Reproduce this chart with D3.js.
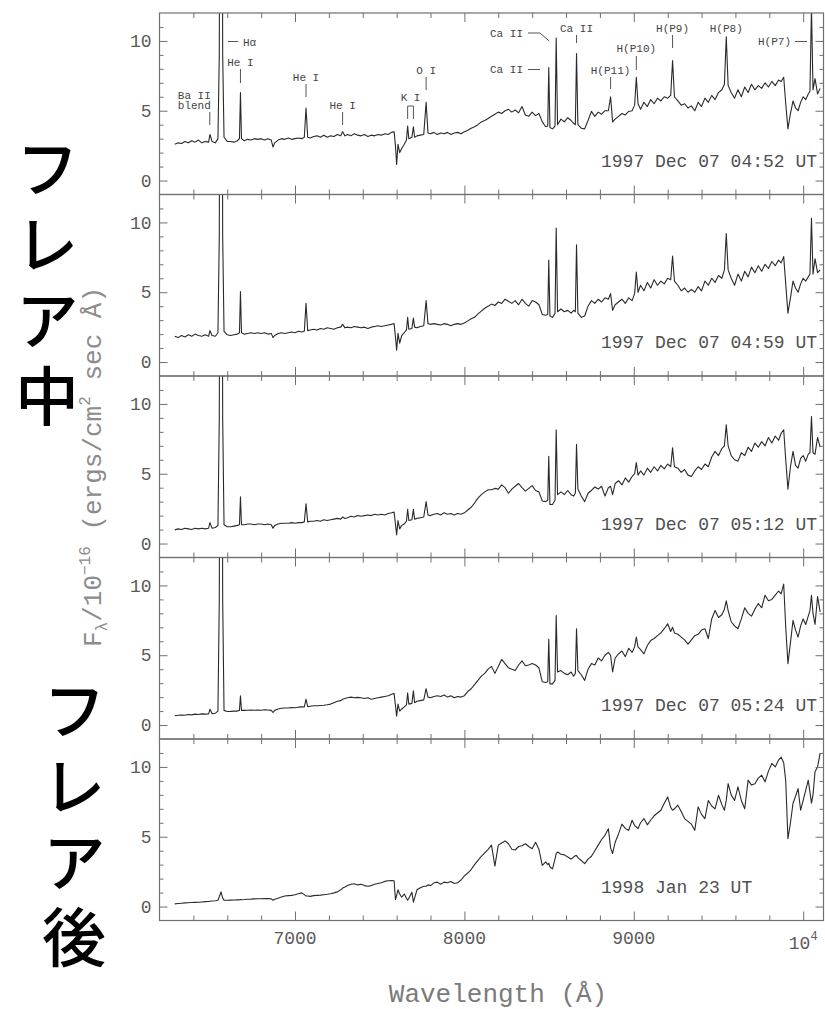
<!DOCTYPE html>
<html>
<head>
<meta charset="utf-8">
<script src="https://cdn.jsdelivr.net/npm/d3@7"></script>
<style>
  body { margin: 0; background: #fff; }
  svg { display: block; }
</style>
</head>
<body>
<svg id="chart" width="825" height="1009"></svg>
<script>
// Wavelength grid (Å) shared by all five spectra
const wavelength = [
  6290,6310,6330,6350,6370,6390,6410,6430,6450,6470,
  6490,6498,6510,6530,6545,6553,6563,6573,6581,6600,
  6620,6640,6660,6672,6678,6684,6700,6720,6740,6760,
  6780,6800,6820,6840,6860,6870,6880,6900,6920,6940,
  6960,6980,7000,7020,7040,7055,7065,7075,7090,7110,
  7130,7150,7170,7190,7210,7230,7250,7270,7281,7295,
  7310,7330,7350,7370,7390,7410,7430,7450,7470,7490,
  7510,7530,7550,7570,7585,7593,7600,7608,7618,7630,
  7645,7658,7665,7672,7690,7699,7706,7720,7740,7760,
  7774,7785,7800,7820,7840,7860,7880,7900,7920,7940,
  7960,7980,8000,8020,8040,8060,8080,8100,8120,8140,
  8160,8180,8200,8220,8240,8260,8280,8300,8320,8340,
  8360,8380,8400,8420,8440,8460,8480,8492,8498,8505,
  8520,8535,8542,8550,8570,8590,8610,8630,8645,8655,
  8662,8670,8690,8710,8730,8750,8770,8790,8810,8830,
  8850,8863,8875,8890,8910,8930,8950,8970,8990,9005,
  9015,9025,9040,9060,9080,9100,9120,9140,9160,9180,
  9200,9218,9229,9240,9260,9280,9300,9320,9340,9360,
  9380,9400,9420,9440,9460,9480,9500,9520,9535,9546,
  9557,9575,9595,9615,9635,9655,9675,9695,9715,9735,
  9755,9775,9795,9815,9835,9855,9870,9885,9897,9910,
  9925,9940,9955,9970,9985,10000,10015,10030,10040,10049,
  10058,10070,10085,10100
];

// F_lambda / 1e-16 erg s^-1 cm^-2 Å^-1
const flux19971207_0452 = [
  2.6,2.7,2.65,2.8,2.7,2.85,2.75,2.9,2.7,2.8,
  2.75,3.3,2.8,2.7,3.0,9,60,9,3.1,2.8,
  2.8,2.75,2.85,3.0,6.3,3.0,2.85,2.95,2.9,3.0,
  2.95,3.0,2.9,3.0,2.9,2.4,2.7,2.9,3.0,2.95,
  3.05,2.95,3.0,3.05,3.0,3.1,5.2,3.1,3.05,3.15,
  3.2,3.1,3.25,3.1,3.2,3.15,3.3,3.2,3.5,3.2,
  3.3,3.2,3.35,3.25,3.2,3.3,3.15,3.25,3.2,3.3,
  3.25,3.35,3.3,3.45,3.5,2.5,1.15,2.6,2.0,2.3,
  2.6,2.9,3.9,3.0,3.1,3.85,3.1,3.2,3.25,3.3,
  5.6,3.4,3.35,3.45,3.3,3.4,3.35,3.45,3.3,3.4,
  3.45,3.35,3.5,3.6,3.75,3.85,4.0,4.2,4.3,4.45,
  4.6,4.75,4.9,4.8,5.0,5.1,4.9,5.05,4.85,5.3,
  4.7,4.6,4.9,4.65,4.8,4.2,3.85,3.9,8.1,3.8,
  3.7,3.9,10.2,4.0,4.4,4.2,4.5,4.3,4.1,4.0,
  9.1,4.0,3.75,3.7,4.3,4.95,4.6,4.9,4.75,5.0,
  5.0,6.0,4.2,4.4,4.6,4.8,4.7,4.95,5.0,5.4,
  7.4,5.5,5.1,5.6,5.3,5.8,5.5,5.9,5.7,6.0,
  5.9,6.1,8.6,6.0,5.7,5.4,5.5,5.2,5.35,5.0,
  5.6,5.3,5.9,5.6,6.1,5.8,6.3,6.5,6.9,10.3,
  6.8,6.3,5.9,6.5,6.0,6.7,6.3,6.9,6.5,6.8,
  6.6,7.0,6.7,7.1,6.8,7.2,7.1,7.4,5.5,3.7,
  4.8,5.7,5.2,5.0,5.6,6.0,5.8,6.2,6.4,12.4,
  6.5,7.3,6.2,6.6
];

const flux19971207_0459 = [
  1.85,1.75,1.9,1.8,1.95,1.85,2.0,1.9,1.85,1.95,
  1.85,2.25,1.9,1.85,2.1,9,60,9,2.2,1.95,
  1.9,1.95,2.0,2.1,5.05,2.1,2.0,2.05,2.1,2.05,
  2.1,2.05,2.1,2.0,2.05,1.75,1.9,2.05,2.1,2.05,
  2.1,2.15,2.1,2.2,2.15,2.2,4.2,2.25,2.3,2.35,
  2.3,2.4,2.35,2.45,2.4,2.35,2.45,2.5,2.7,2.45,
  2.5,2.45,2.55,2.5,2.45,2.5,2.4,2.5,2.55,2.6,
  2.55,2.6,2.65,2.7,2.75,1.8,0.85,2.05,1.35,1.9,
  2.1,2.3,3.2,2.35,2.4,3.15,2.5,2.45,2.55,2.6,
  4.4,2.75,2.7,2.75,2.7,2.65,2.75,2.7,2.6,2.7,
  2.75,2.7,2.8,2.95,3.1,3.2,3.45,3.65,3.85,4.0,
  4.15,4.05,4.3,4.2,4.5,4.35,4.2,4.4,4.1,4.5,
  4.2,4.0,4.4,4.3,4.1,3.4,3.35,3.4,7.3,3.3,
  3.2,3.5,9.6,3.6,3.8,3.6,3.7,3.5,3.7,3.6,
  8.4,3.5,3.2,3.3,4.0,4.4,4.2,4.5,4.3,4.6,
  4.5,4.9,3.7,4.1,4.3,4.5,4.2,4.6,4.4,4.9,
  6.45,5.0,5.5,5.1,5.7,5.3,5.9,5.5,5.8,5.6,
  6.0,5.9,7.6,5.8,5.5,5.1,5.3,5.0,5.2,5.0,
  5.4,5.1,5.8,5.5,6.0,5.7,6.2,6.0,6.6,9.2,
  6.6,6.0,5.5,6.3,5.8,6.5,6.1,6.8,6.4,6.9,
  6.5,7.0,6.7,7.2,6.9,7.3,7.1,7.55,5.6,3.5,
  4.6,5.8,5.3,5.0,5.6,6.0,5.8,6.1,6.3,10.3,
  6.3,7.4,6.4,6.6
];

const flux19971207_0512 = [
  0.98,1.05,1.0,1.1,1.05,1.0,1.1,1.05,1.1,1.05,
  1.1,1.5,1.1,1.15,1.3,9,60,9,1.35,1.2,
  1.2,1.25,1.3,1.35,3.35,1.35,1.35,1.4,1.4,1.35,
  1.4,1.4,1.35,1.4,1.35,1.1,1.3,1.4,1.45,1.45,
  1.45,1.5,1.45,1.5,1.5,1.55,2.85,1.55,1.6,1.6,
  1.65,1.6,1.7,1.65,1.7,1.75,1.8,1.75,1.9,1.8,
  1.85,1.95,1.9,2.0,1.95,2.0,2.05,2.0,2.1,2.05,
  2.1,2.05,2.15,2.2,2.25,1.4,0.62,1.65,1.05,1.3,
  1.4,1.6,2.45,1.65,1.7,2.45,1.75,1.8,1.85,1.9,
  3.0,2.05,2.0,2.1,2.15,2.05,2.2,2.1,2.15,2.05,
  2.15,2.1,2.2,2.4,2.6,2.9,3.25,3.5,3.7,3.85,
  3.85,3.95,3.9,4.2,4.0,3.6,3.9,4.1,4.3,4.0,
  3.75,3.95,4.15,3.8,3.7,3.05,3.0,3.1,6.25,2.8,
  2.8,3.1,8.15,3.5,3.7,3.5,3.8,3.5,3.4,3.6,
  7.1,3.9,3.4,3.0,3.6,3.8,4.05,3.9,4.1,3.4,
  4.0,4.1,3.5,4.3,4.5,4.2,4.7,4.4,4.8,5.0,
  5.8,4.9,5.2,4.9,5.4,5.1,5.5,5.2,5.6,5.35,
  5.7,5.5,6.85,5.5,5.4,5.1,5.3,4.9,4.8,5.2,
  5.5,5.3,5.7,5.5,6.2,6.6,6.3,6.8,7.0,8.5,
  7.0,6.3,6.0,5.9,6.5,6.3,6.9,6.6,7.2,6.9,
  7.3,7.0,7.6,7.2,7.7,7.4,7.9,8.15,6.0,3.9,
  5.5,6.6,5.6,5.4,6.1,6.3,5.9,6.4,6.5,9.1,
  6.5,6.4,7.6,6.9
];

const flux19971207_0524 = [
  0.66,0.7,0.72,0.7,0.75,0.73,0.78,0.75,0.8,0.78,
  0.8,1.13,0.82,0.85,1.0,9,60,9,1.05,0.97,
  0.98,1.0,1.0,1.05,2.1,1.05,1.05,1.06,1.08,1.06,
  1.08,1.06,1.1,1.08,1.05,0.9,1.05,1.15,1.2,1.22,
  1.22,1.25,1.24,1.28,1.3,1.3,1.85,1.32,1.35,1.38,
  1.38,1.4,1.42,1.45,1.5,1.6,1.7,1.75,1.85,1.9,
  1.95,2.0,1.95,1.98,1.95,1.9,1.95,1.85,1.9,1.95,
  2.0,2.05,2.1,2.2,2.25,1.4,0.64,1.5,1.0,1.15,
  1.3,1.45,2.3,1.5,1.55,2.45,1.6,1.7,1.75,1.8,
  2.6,2.0,1.95,2.05,2.1,2.05,2.15,2.0,2.1,1.95,
  2.05,2.0,2.1,2.4,2.6,2.9,3.2,3.5,3.7,4.0,
  4.2,3.7,4.2,4.7,4.4,4.1,4.0,3.9,4.3,4.6,
  4.25,4.3,4.4,4.3,4.1,3.1,3.05,3.1,6.15,2.95,
  2.95,3.2,7.85,3.8,3.9,3.7,3.6,3.8,3.5,3.7,
  6.9,3.9,3.6,3.2,4.0,4.4,4.3,4.8,4.6,5.0,
  5.2,5.0,3.8,4.8,5.1,5.3,4.9,5.5,5.2,5.6,
  6.3,5.6,5.4,5.1,5.7,6.05,6.2,6.4,6.6,6.9,
  7.25,6.7,7.0,6.6,6.5,6.3,6.1,5.8,6.1,6.4,
  6.5,6.8,6.9,6.2,7.6,8.2,7.7,7.9,8.3,8.9,
  8.2,7.4,7.1,6.9,7.6,8.4,8.0,7.8,8.3,8.7,
  8.4,9.3,8.9,9.0,9.3,9.6,9.4,10.1,7.0,4.4,
  5.9,7.5,6.8,6.3,7.1,7.6,7.2,7.8,8.2,9.3,
  8.0,7.2,9.2,8.1
];

const flux19980123 = [
  0.19,0.22,0.24,0.26,0.27,0.29,0.3,0.31,0.33,0.35,
  0.36,0.38,0.4,0.42,0.45,0.7,1.05,0.6,0.45,0.45,
  0.46,0.47,0.48,0.48,0.5,0.49,0.5,0.52,0.53,0.55,
  0.56,0.56,0.57,0.58,0.55,0.45,0.52,0.6,0.68,0.75,
  0.78,0.8,0.85,0.92,0.98,0.85,0.75,0.76,0.73,0.78,
  0.8,0.82,0.85,0.88,0.92,0.98,1.05,1.2,1.32,1.4,
  1.5,1.6,1.63,1.55,1.6,1.5,1.45,1.5,1.6,1.65,
  1.7,1.8,1.85,1.87,1.85,0.5,0.8,1.2,0.9,0.67,
  0.9,0.6,0.45,0.6,1.03,0.31,0.6,1.2,1.35,1.45,
  1.45,1.55,1.5,1.7,1.75,1.6,1.75,1.7,1.8,1.65,
  1.7,1.9,2.2,2.4,2.65,3.0,3.3,3.6,3.85,4.1,
  4.4,2.9,4.4,4.55,4.7,4.5,4.1,4.05,4.3,4.35,
  4.5,4.3,4.14,4.6,4.1,2.95,3.2,3.0,3.1,2.85,
  2.7,3.4,3.8,3.9,3.75,3.7,3.55,3.4,3.55,3.65,
  3.65,3.5,3.3,3.07,3.4,3.6,4.0,4.4,4.8,5.1,
  5.58,4.2,3.8,4.6,5.2,5.9,5.6,5.45,6.18,5.8,
  5.7,5.58,6.0,6.3,5.85,6.2,6.5,6.7,6.9,7.4,
  7.85,7.1,6.9,7.0,7.26,6.8,6.3,6.1,5.9,5.46,
  7.14,6.6,6.3,7.6,7.2,7.0,7.97,7.3,6.9,7.6,
  8.8,8.0,7.6,8.57,7.6,7.0,9.05,8.7,8.8,9.2,
  9.41,8.93,9.7,10.25,10.0,10.5,10.7,10.3,9.0,4.86,
  6.0,7.4,7.9,8.45,6.9,7.6,8.33,9.05,8.2,7.4,
  8.0,9.65,10.0,10.97
];

const epochLabels = [
  "1997 Dec 07 04:52 UT",
  "1997 Dec 07 04:59 UT",
  "1997 Dec 07 05:12 UT",
  "1997 Dec 07 05:24 UT",
  "1998 Jan 23 UT"
];

const fluxTicksMajor = [0, 5, 10];
const fluxTicksMinor = [1, 2, 3, 4, 6, 7, 8, 9, 11];
const waveTicksMajor = [7000, 8000, 9000, 10000];
const waveTicksMinor = [6400, 6600, 6800, 7200, 7400, 7600, 7800, 8200, 8400,
                        8600, 8800, 9200, 9400, 9600, 9800];
const waveTickLabels = ["7000", "8000", "9000", "10|4"];

const phaseFlare = "フレア中";
const phaseAfter = "フレア後";

// ---------------------------------------------------------------
const svg = d3.select("#chart");
const MONO = "'Liberation Mono', 'DejaVu Sans Mono', monospace";
const CJK = "'Noto Sans CJK JP', 'Noto Sans CJK SC', sans-serif";
const frameColor = "#707070";
const textColor = "#505050";

const plotLeft = 159.5, plotRight = 823.5, plotTop = 13, panelH = 181.5;
const x = d3.scaleLinear().domain([6200, 10120]).range([plotLeft, plotRight]);

const spectra = [flux19971207_0452, flux19971207_0459, flux19971207_0512,
                 flux19971207_0524, flux19980123];

const defs = svg.append("defs");

spectra.forEach((flux, i) => {
  const top = plotTop + i * panelH;
  const bottom = top + panelH;
  const y = d3.scaleLinear().domain([-1, 12]).range([bottom, top]);
  const g = svg.append("g").attr("class", "panel");

  defs.append("clipPath").attr("id", "clip" + i)
    .append("rect")
    .attr("x", plotLeft).attr("y", top)
    .attr("width", plotRight - plotLeft).attr("height", panelH);

  const line = d3.line()
    .x((d, k) => x(wavelength[k]))
    .y(d => y(d));

  g.append("path")
    .datum(flux)
    .attr("clip-path", `url(#clip${i})`)
    .attr("d", line)
    .attr("fill", "none")
    .attr("stroke", "#2a2a2a")
    .attr("stroke-width", 1.1)
    .attr("stroke-linejoin", "round");

  const styleAxis = sel => {
    sel.select(".domain").remove();
    sel.attr("color", frameColor);
    sel.selectAll(".tick line").attr("stroke-width", 1);
  };

  // left flux axis: labelled majors and minor ticks, pointing inward
  g.append("g").attr("transform", `translate(${plotLeft},0)`)
    .call(d3.axisLeft(y).tickValues(fluxTicksMajor).tickSize(-8).tickPadding(8).tickSizeOuter(0))
    .call(styleAxis)
    .call(s => s.selectAll("text")
      .attr("font-family", MONO).attr("font-size", 18).attr("fill", "#5a5a5a"));
  g.append("g").attr("transform", `translate(${plotLeft},0)`)
    .call(d3.axisLeft(y).tickValues(fluxTicksMinor).tickSize(-4).tickFormat("").tickSizeOuter(0))
    .call(styleAxis);
  // right flux axis
  g.append("g").attr("transform", `translate(${plotRight},0)`)
    .call(d3.axisRight(y).tickValues(fluxTicksMajor).tickSize(-8).tickFormat("").tickSizeOuter(0))
    .call(styleAxis);
  g.append("g").attr("transform", `translate(${plotRight},0)`)
    .call(d3.axisRight(y).tickValues(fluxTicksMinor).tickSize(-4).tickFormat("").tickSizeOuter(0))
    .call(styleAxis);

  // wavelength ticks on top and bottom edges
  [[top, d3.axisTop], [bottom, d3.axisBottom]].forEach(([yy, axisFn]) => {
    g.append("g").attr("transform", `translate(0,${yy})`)
      .call(axisFn(x).tickValues(waveTicksMajor).tickSize(-9).tickFormat("").tickSizeOuter(0))
      .call(styleAxis);
    g.append("g").attr("transform", `translate(0,${yy})`)
      .call(axisFn(x).tickValues(waveTicksMinor).tickSize(-5).tickFormat("").tickSizeOuter(0))
      .call(styleAxis);
  });

  g.append("rect")
    .attr("x", plotLeft).attr("y", top)
    .attr("width", plotRight - plotLeft).attr("height", panelH)
    .attr("fill", "none").attr("stroke", frameColor).attr("stroke-width", 1.2);

  g.append("text")
    .attr("x", 601).attr("y", top + 153.5)
    .attr("font-family", MONO).attr("font-size", 18).attr("fill", textColor)
    .text(epochLabels[i]);
});

// wavelength tick labels under the last panel
const lastBottom = plotTop + 5 * panelH;
waveTicksMajor.forEach((w, k) => {
  const parts = waveTickLabels[k].split("|");
  const t = svg.append("text")
    .attr("x", x(w)).attr("text-anchor", "middle")
    .attr("font-family", MONO).attr("font-size", 18).attr("fill", "#5a5a5a");
  if (parts.length === 1) {
    t.attr("y", lastBottom + 23).text(parts[0]);
  } else {
    t.attr("y", lastBottom + 28).text(parts[0]);
    t.append("tspan").attr("dy", -9).attr("font-size", 12).text(parts[1]);
  }
});

// axis titles
svg.append("text")
  .attr("x", 498).attr("y", 1002)
  .attr("text-anchor", "middle")
  .attr("font-family", MONO).attr("font-size", 26).attr("fill", "#7a7a7a")
  .text("Wavelength (Å)");

const yTitle = svg.append("text")
  .attr("transform", "translate(101,467) rotate(-90)")
  .attr("text-anchor", "middle")
  .attr("font-family", MONO).attr("font-size", 26).attr("fill", "#8c8c8c");
yTitle.append("tspan").text("F");
yTitle.append("tspan").attr("dy", 6).attr("font-size", 16).text("λ");
yTitle.append("tspan").attr("dy", -6).text("/10");
yTitle.append("tspan").attr("dy", -11).attr("font-size", 16).text("−16");
yTitle.append("tspan").attr("dy", 11).text(" (ergs/cm");
yTitle.append("tspan").attr("dy", -11).attr("font-size", 16).text("2");
yTitle.append("tspan").attr("dy", 11).text(" sec Å)");

// line identifications in the first panel
const ann = svg.append("g")
  .attr("font-family", MONO).attr("font-size", 11).attr("fill", "#444");
const seg = (x1, y1, x2, y2) => ann.append("line")
  .attr("x1", x1).attr("y1", y1).attr("x2", x2).attr("y2", y2)
  .attr("stroke", "#555").attr("stroke-width", 1);
const label = (tx, ty, txt, anchor = "middle") => ann.append("text")
  .attr("x", tx).attr("y", ty).attr("text-anchor", anchor).text(txt);

label(x(6497) + 1, 99, "Ba II", "end");
label(x(6497) + 1, 109, "blend", "end");
seg(x(6497), 112, x(6497), 125);

seg(228, 41.5, 238, 41.5);
label(243, 45.5, "Hα", "start");

label(x(6678), 66, "He I");
seg(x(6678), 69, x(6678), 83);
label(x(7065), 81, "He I");
seg(x(7065), 84, x(7065), 97);
label(x(7281), 109, "He I");
seg(x(7281), 112, x(7281), 125);

label((x(7665) + x(7699)) / 2, 101, "K I");
seg(x(7665), 106, x(7699), 106);
seg(x(7665), 106, x(7665), 119);
seg(x(7699), 106, x(7699), 119);

label(x(7774), 74, "O I");
seg(x(7774), 77, x(7774), 90);

label(523, 36.5, "Ca II", "end");
ann.append("polyline")
  .attr("points", `528,33 540,33 ${x(8542) - 7},41`)
  .attr("fill", "none").attr("stroke", "#555").attr("stroke-width", 1);
label(523, 73, "Ca II", "end");
seg(528, 69.5, 540, 69.5);
label(x(8662), 31.5, "Ca II");
seg(x(8662), 35, x(8662), 43);

label(x(8863), 74, "H(P11)");
seg(x(8863), 77, x(8863), 89);
label(x(9015), 52, "H(P10)");
seg(x(9015), 56, x(9015), 70);
label(x(9229), 31.5, "H(P9)");
seg(x(9229), 35, x(9229), 48);
label(x(9546), 31.5, "H(P8)");
label(791, 45, "H(P7)", "end");
seg(795, 41.5, 807, 41.5);

// phase captions, set vertically
const phase = (txt, cx, yStart, gap) => svg.append("text")
  .attr("x", cx).attr("y", yStart)
  .attr("font-family", CJK).attr("font-size", 64).attr("font-weight", 500)
  .attr("fill", "#000")
  .style("writing-mode", "vertical-rl")
  .style("text-orientation", "upright")
  .style("letter-spacing", gap + "px")
  .text(txt);
phase(phaseFlare, 47, 136, 12);
phase(phaseAfter, 74, 678, 11.7);
</script>
</body>
</html>
